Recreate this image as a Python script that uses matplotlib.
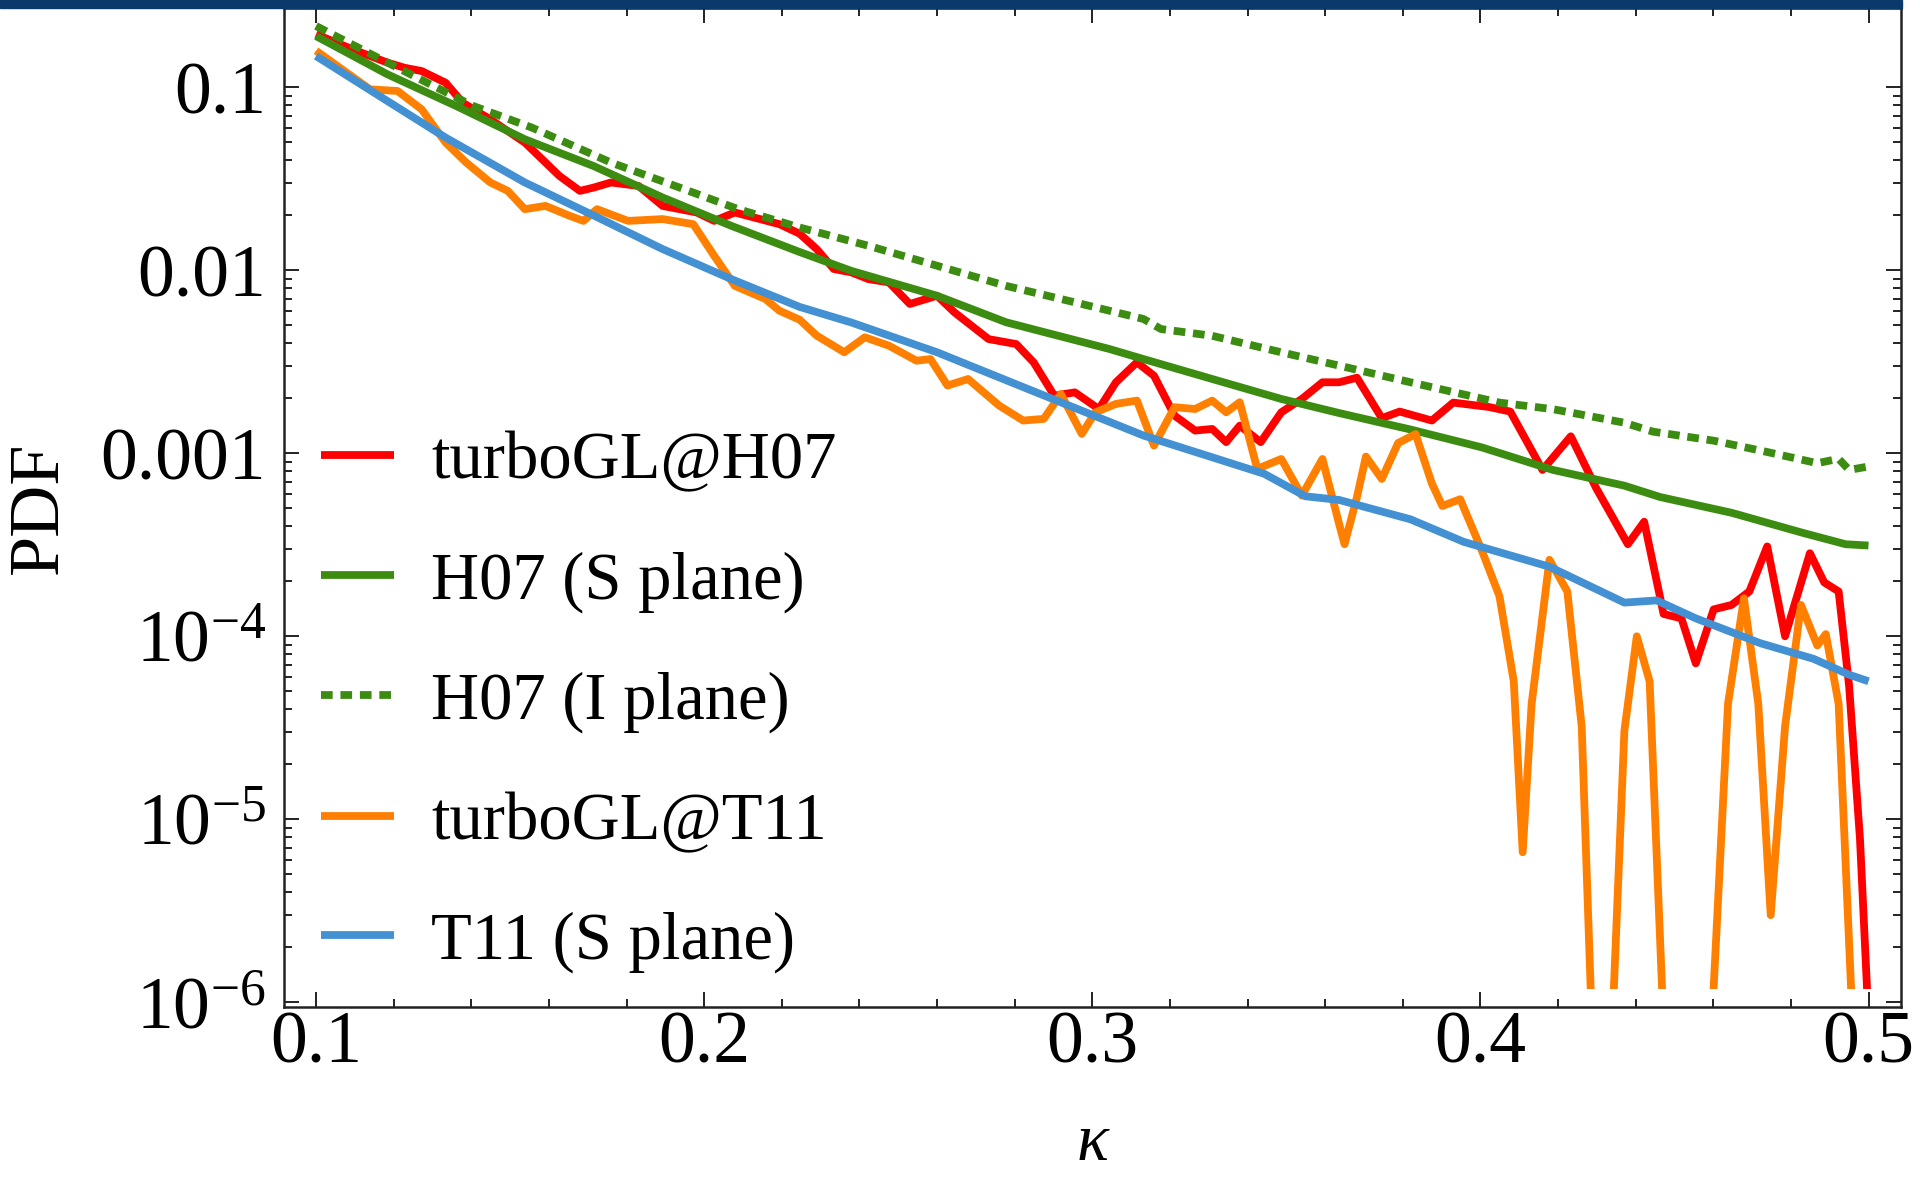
"""PDF of lensing convergence kappa: turboGL vs ray-tracing (H07, T11)."""
import matplotlib
matplotlib.use("Agg")
import matplotlib.pyplot as plt
import numpy as np
from matplotlib.patches import Rectangle
from matplotlib.ticker import FixedLocator, FixedFormatter, NullFormatter

plt.rcParams["font.family"] = ["Liberation Serif", "DejaVu Serif"]
plt.rcParams["mathtext.fontset"] = "custom"
plt.rcParams["mathtext.rm"] = "Liberation Serif"
plt.rcParams["mathtext.it"] = "Liberation Serif:italic"

# kappa grid + log10(PDF)
k_tgl_h07 = [0.100, 0.1095, 0.1184, 0.1228, 0.1272, 0.1334, 0.1378, 0.1449, 0.1538, 0.1627,
             0.1680, 0.1715, 0.1760, 0.1831, 0.1893, 0.1981, 0.2026, 0.2079, 0.2194, 0.2246,
             0.2290, 0.2334, 0.2379, 0.2423, 0.2476, 0.2530, 0.2600, 0.2645, 0.2733, 0.2804,
             0.2849, 0.2902, 0.2955, 0.3017, 0.3061, 0.3115, 0.3159, 0.3212, 0.3265, 0.3309,
             0.3345, 0.3380, 0.3434, 0.3487, 0.3540, 0.3593, 0.3636, 0.3682, 0.3746, 0.3792,
             0.3875, 0.3930, 0.4022, 0.4077, 0.4160, 0.4233, 0.4298, 0.4380, 0.4422, 0.4472,
             0.4518, 0.4555, 0.4601, 0.4647, 0.4693, 0.4739, 0.4785, 0.4849, 0.4886, 0.4923,
             0.4950, 0.4978, 0.4996, 0.5000]
lg_tgl_h07 = [-0.710, -0.793, -0.865, -0.893, -0.911, -0.975, -1.084, -1.175, -1.302, -1.484,
              -1.566, -1.548, -1.520, -1.539, -1.648, -1.684, -1.730, -1.684, -1.748, -1.800,
              -1.884, -1.993, -2.011, -2.048, -2.066, -2.184, -2.139, -2.230, -2.376, -2.403,
              -2.503, -2.685, -2.667, -2.758, -2.612, -2.503, -2.576, -2.794, -2.876, -2.867,
              -2.939, -2.849, -2.939, -2.776, -2.703, -2.612, -2.612, -2.587, -2.808, -2.772,
              -2.821, -2.723, -2.747, -2.772, -3.091, -2.907, -3.189, -3.497, -3.374, -3.878,
              -3.902, -4.148, -3.853, -3.829, -3.755, -3.509, -4.000, -3.546, -3.706, -3.755,
              -4.271, -5.107, -5.918, -6.300]

k_h07_s = [0.100, 0.1184, 0.1361, 0.1538, 0.1715, 0.1893, 0.2070, 0.2246, 0.2379, 0.2600,
           0.2778, 0.3044, 0.3132, 0.3309, 0.3487, 0.3636, 0.3820, 0.4004, 0.4187, 0.4371,
           0.4463, 0.4647, 0.4831, 0.4941, 0.5000]
lg_h07_s = [-0.720, -0.929, -1.102, -1.284, -1.430, -1.602, -1.757, -1.900, -2.003, -2.139,
            -2.284, -2.430, -2.485, -2.594, -2.703, -2.780, -2.870, -2.968, -3.091, -3.177,
            -3.239, -3.325, -3.435, -3.497, -3.504]

k_h07_i = [0.100, 0.1210, 0.1405, 0.1556, 0.1760, 0.1937, 0.2088, 0.2246, 0.2423, 0.2600,
           0.2778, 0.2955, 0.3132, 0.3177, 0.3309, 0.3487, 0.3636, 0.3820, 0.4049, 0.4187,
           0.4371, 0.4445, 0.4601, 0.4739, 0.4868, 0.4923, 0.4950, 0.5000]
lg_h07_i = [-0.665, -0.893, -1.102, -1.220, -1.411, -1.548, -1.666, -1.766, -1.866, -1.975,
            -2.085, -2.175, -2.266, -2.321, -2.358, -2.448, -2.521, -2.612, -2.723, -2.759,
            -2.833, -2.882, -2.931, -2.993, -3.054, -3.030, -3.091, -3.072]

k_tgl_t11 = [0.100, 0.1139, 0.1210, 0.1272, 0.1334, 0.1387, 0.1449, 0.1494, 0.1538, 0.1591,
             0.1653, 0.1689, 0.1724, 0.1804, 0.1893, 0.1972, 0.2026, 0.2079, 0.2158, 0.2194,
             0.2246, 0.2290, 0.2361, 0.2414, 0.2476, 0.2547, 0.2583, 0.2627, 0.2680, 0.2760,
             0.2822, 0.2875, 0.2919, 0.2973, 0.3008, 0.3061, 0.3115, 0.3159, 0.3212, 0.3265,
             0.3309, 0.3345, 0.3380, 0.3425, 0.3487, 0.3540, 0.3593, 0.3636, 0.3650, 0.3682,
             0.3705, 0.3746, 0.3788, 0.3833, 0.3875, 0.3902, 0.3948, 0.4004, 0.4049, 0.4086,
             0.4109, 0.4132, 0.4178, 0.4224, 0.4261, 0.4284, 0.4314, 0.4344, 0.4371, 0.4403,
             0.4436, 0.4468, 0.4535, 0.4601, 0.4638, 0.4679, 0.4716, 0.4748, 0.4785, 0.4826,
             0.4868, 0.4890, 0.4923, 0.4955, 0.4978, 0.5000]
lg_tgl_t11 = [-0.800, -1.011, -1.020, -1.120, -1.302, -1.411, -1.520, -1.566, -1.666, -1.648,
              -1.702, -1.730, -1.666, -1.730, -1.720, -1.748, -1.921, -2.085, -2.157, -2.221,
              -2.270, -2.357, -2.448, -2.366, -2.412, -2.494, -2.485, -2.630, -2.594, -2.739,
              -2.821, -2.812, -2.676, -2.894, -2.776, -2.730, -2.712, -2.958, -2.748, -2.758,
              -2.712, -2.776, -2.721, -3.085, -3.031, -3.231, -3.031, -3.386, -3.497, -3.239,
              -3.018, -3.140, -2.944, -2.895, -3.165, -3.288, -3.251, -3.533, -3.780, -4.246,
              -5.180, -4.369, -3.582, -3.755, -4.492, -5.918, -7.000, -5.920, -4.516, -4.000,
              -4.246, -5.920, -7.500, -5.920, -4.369, -3.792, -4.369, -5.524, -4.492, -3.829,
              -4.050, -3.988, -4.369, -5.920, -7.000, -7.500]

k_t11_s = [0.100, 0.1184, 0.1334, 0.1538, 0.1715, 0.1893, 0.2070, 0.2246, 0.2379, 0.2600,
           0.2866, 0.3132, 0.3443, 0.3549, 0.3636, 0.3820, 0.3957, 0.4178, 0.4371, 0.4454,
           0.4555, 0.4720, 0.4858, 0.4950, 0.5000]
lg_t11_s = [-0.829, -1.075, -1.275, -1.520, -1.700, -1.884, -2.048, -2.200, -2.285, -2.448,
            -2.676, -2.903, -3.112, -3.235, -3.255, -3.361, -3.484, -3.620, -3.816, -3.804,
            -3.902, -4.037, -4.123, -4.210, -4.246]

labels = ["turboGL@H07", "H07 (S plane)", "H07 (I plane)", "turboGL@T11", "T11 (S plane)"]
RED, GREEN, ORANGE, BLUE = "#ff0000", "#3d8c12", "#ff8000", "#4391d3"
DOTS = (0, (1.5, 1.0))
LW = 5.6

fig = plt.figure(figsize=(19.2, 11.78), dpi=100)
# dark strip at the very top (slide header)
fig.patches.append(Rectangle((0, 1 - 8 / 1178), 1902 / 1920, 8 / 1178,
                             transform=fig.transFigure, color="#0a3a6c", zorder=0))
ax = fig.add_axes([284 / 1920, 171 / 1178, 1617 / 1920, 999 / 1178])
ax.set_yscale("log")
ax.set_xlim(0.09175, 0.50837)
ax.set_ylim(9.42e-7, 0.2713)

# plot range clip (curves stop a bit above the frame, as in Mathematica)
clip = Rectangle((0.0, 10 ** -5.93), 1.0, 1.0, transform=ax.transData)

series = [(k_tgl_h07, lg_tgl_h07, RED, "-"), (k_h07_s, lg_h07_s, GREEN, "-"),
          (k_h07_i, lg_h07_i, GREEN, DOTS), (k_tgl_t11, lg_tgl_t11, ORANGE, "-"),
          (k_t11_s, lg_t11_s, BLUE, "-")]
for (k, lg, c, ls), lab in zip(series, labels):
    ln, = ax.plot(k, 10 ** np.array(lg), color=c, ls=ls, lw=LW, label=lab,
                  solid_joinstyle="round", solid_capstyle="butt", dash_capstyle="butt")
    ln.set_clip_path(clip)

# ticks, Mathematica frame style
ax.xaxis.set_major_locator(FixedLocator([0.1, 0.2, 0.3, 0.4, 0.5]))
ax.xaxis.set_major_formatter(FixedFormatter(["0.1", "0.2", "0.3", "0.4", "0.5"]))
ax.xaxis.set_minor_locator(FixedLocator([0.12, 0.14, 0.16, 0.18, 0.22, 0.24, 0.26, 0.28,
                                         0.32, 0.34, 0.36, 0.38, 0.42, 0.44, 0.46, 0.48]))
ax.yaxis.set_major_locator(FixedLocator([1e-1, 1e-2, 1e-3, 1e-4, 1e-5, 1e-6]))
ax.yaxis.set_major_formatter(FixedFormatter(["0.1", "0.01", "0.001", r"$10^{-4}$",
                                             r"$10^{-5}$", r"$10^{-6}$"]))
ax.yaxis.set_minor_locator(FixedLocator([m * 10.0 ** d for d in range(-6, -1) for m in range(2, 10)]))
ax.yaxis.set_minor_formatter(NullFormatter())
ax.tick_params(which="both", direction="in", top=True, right=True, width=1.4, color="#222")
ax.tick_params(which="major", length=11, labelsize=53)
ax.tick_params(which="minor", length=6)
ax.tick_params(axis="x", pad=3)
ax.tick_params(axis="y", pad=13)
for s in ax.spines.values():
    s.set_linewidth(1.8)
    s.set_color("#222")

ax.set_ylabel("PDF", fontsize=52)
ax.yaxis.set_label_coords(-0.131, 0.5)
ax.set_xlabel("κ", fontsize=48, fontstyle="italic")
ax.xaxis.set_label_coords(0.5, -0.106)

ax.legend(loc="upper left", bbox_to_anchor=(0.0229, 0.576), frameon=False, fontsize=48,
          handlelength=1.1, handletextpad=0.55, labelspacing=0.88,
          borderpad=0, borderaxespad=0)

fig.savefig("out.png", dpi=100)
